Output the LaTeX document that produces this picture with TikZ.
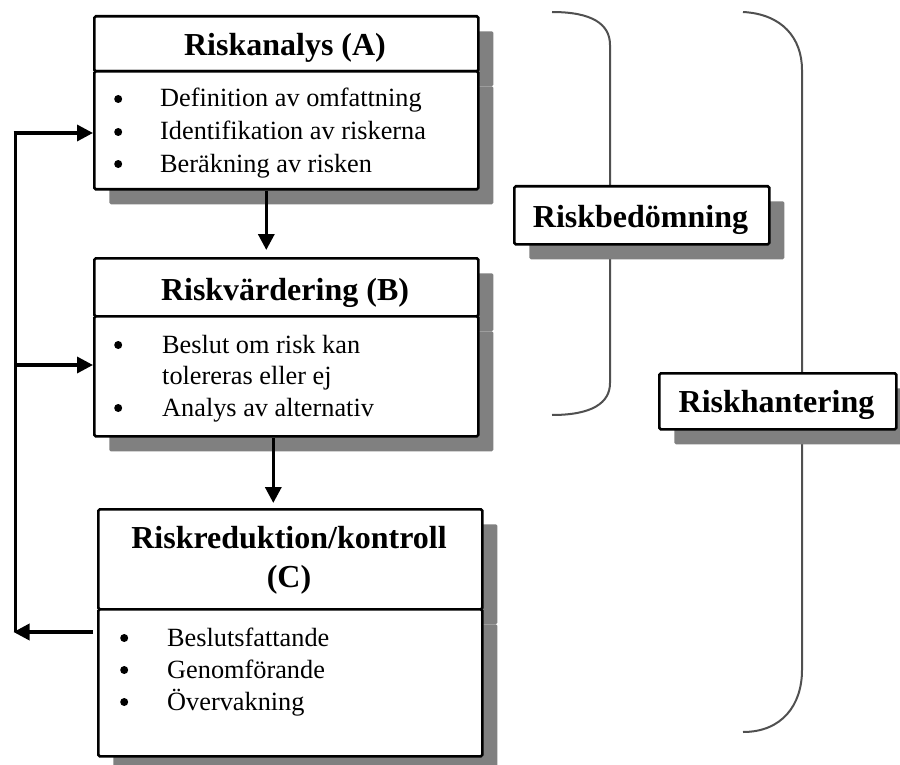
\documentclass[tikz,border=0pt]{standalone}
\usepackage{fontspec}
\usepackage{pict2e}
\setmainfont{Liberation Serif}
\usetikzlibrary{arrows.meta,shadows}

\definecolor{shadowgray}{HTML}{808080}
\definecolor{bracketgray}{HTML}{505050}

\newcommand{\hdrfont}{\fontsize{32}{38}\selectfont\bfseries}
\newcommand{\itemfont}{\fontsize{26.3}{32}\selectfont}
% round list marker, 8pt across, set in a box of the given width
\newcommand{\bul}[1]{\makebox[#1][l]{\setlength{\unitlength}{1pt}%
  \begin{picture}(0,0)\put(5,8){\circle*{8}}\end{picture}}}

\tikzset{
  panel/.style={draw=black, line width=2.6pt, fill=white, rounded corners=1.5pt,
    inner sep=0pt, anchor=north west,
    drop shadow={shadow xshift=15pt, shadow yshift=-15pt, fill=shadowgray, opacity=1}},
  title/.style={font=\hdrfont, inner sep=0pt, anchor=base},
  entry/.style={font=\itemfont, inner sep=0pt, anchor=base west},
  flow/.style={line width=3.4pt, -{Triangle[length=16pt,width=16pt]}},
  rail/.style={line width=3pt},
  bracket/.style={draw=bracketgray, line width=2pt},
}

\begin{document}
\begin{tikzpicture}[x=1pt, y=-1pt]
\useasboundingbox (0,0) rectangle (900,765);

% curly brackets on the right
\draw[bracket] (552,12) .. controls (592,12) and (610,24) .. (610,45)
  -- (610,383) .. controls (610,403) and (592,415) .. (552,415);
\draw[bracket] (743,12) .. controls (782,14) and (802,38) .. (802,70)
  -- (802,670) .. controls (802,705) and (782,732) .. (743,732);

% Riskanalys (A)
\node[panel, minimum width=384pt, minimum height=55pt] (Ah) at (93,15) {};
\node[panel, minimum width=384pt, minimum height=118pt] (Ab) at (93,70) {};
\node[title] (At) at (285,56) {Riskanalys (A)};
\node[entry] (A1) at (113,107) {\bul{47pt}Definition av omfattning};
\node[entry] (A2) at (113,140) {\bul{47pt}Identifikation av riskerna};
\node[entry] (A3) at (113,172) {\bul{47pt}Beräkning av risken};

% Riskvärdering (B)
\node[panel, minimum width=384pt, minimum height=58pt] (Bh) at (93,257) {};
\node[panel, minimum width=384pt, minimum height=120pt] (Bb) at (93,315) {};
\node[title] (Bt) at (285,300) {Riskvärdering (B)};
\node[entry] (B1) at (113,353) {\bul{49pt}Beslut om risk kan};
\node[entry] (B2) at (162,384) {tolereras eller ej};
\node[entry] (B3) at (113,416) {\bul{49pt}Analys av alternativ};

% Riskreduktion/kontroll (C)
\node[panel, minimum width=384pt, minimum height=100pt] (Ch) at (97,508) {};
\node[panel, minimum width=384pt, minimum height=147pt] (Cb) at (97,608) {};
\node[title] (Ct1) at (289,548) {Riskreduktion/kontroll};
\node[title] (Ct2) at (289,587) {(C)};
\node[entry] (C1) at (119,646) {\bul{48pt}Beslutsfattande};
\node[entry] (C2) at (119,678) {\bul{48pt}Genomförande};
\node[entry] (C3) at (119,710) {\bul{48pt}Övervakning};

% bracket labels
\node[panel, minimum width=255pt, minimum height=58pt] (Rb) at (513,185) {};
\node[title] (Rbt) at (640.5,227) {Riskbedömning};
\node[panel, minimum width=237pt, minimum height=56pt] (Rh) at (658,372) {};
\node[title] (Rht) at (776.5,412) {Riskhantering};

% flow between the stages
\draw[flow, shorten >=7pt] ([xshift=-20pt]Ab.south) -- ([xshift=-20pt]Ab.south |- Bh.north);
\draw[flow, shorten >=5pt] ([xshift=-13pt]Bb.south) -- ([xshift=-13pt]Bb.south |- Ch.north);

% feedback loop
\coordinate (railTop) at (15,133);
\coordinate (railMid) at (15,365);
\coordinate (railBot) at (15,632);
\draw[rail] (railBot) -- ([yshift=-1.5pt]railTop);
\draw[flow] ([xshift=-1.5pt]railTop) -- (Ab.west |- railTop);
\draw[flow] (railMid) -- (Bb.west |- railMid);
\draw[flow, shorten <=4pt] (Cb.west |- railBot) -- ([xshift=-1.5pt]railBot);
\end{tikzpicture}
\end{document}
